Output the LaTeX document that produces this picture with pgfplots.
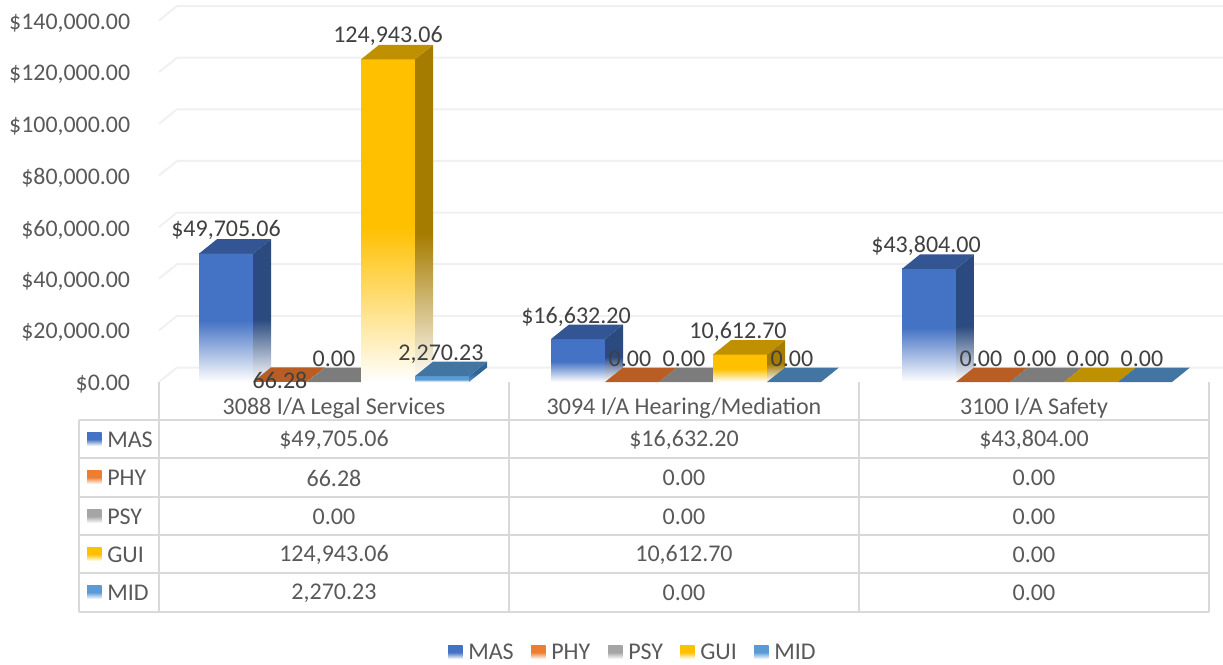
\documentclass[border=0pt]{standalone}
\usepackage{pgfplots}
\pgfplotsset{compat=1.18}
\usepackage{fontspec}
\setmainfont{Carlito}
\definecolor{cMAS}{HTML}{4472C4}\definecolor{cPHY}{HTML}{ED7D31}\definecolor{cPSY}{HTML}{A5A5A5}\definecolor{cGUI}{HTML}{FFC000}\definecolor{cMID}{HTML}{5B9BD5}
\definecolor{tMAS}{HTML}{335593}\definecolor{tPHY}{HTML}{B85E24}\definecolor{tPSY}{HTML}{7C7C7C}\definecolor{tGUI}{HTML}{BF9000}\definecolor{tMID}{HTML}{4375A3}
\definecolor{sMAS}{HTML}{2A4A80}\definecolor{sPHY}{HTML}{A04F1E}\definecolor{sPSY}{HTML}{6B6B6B}\definecolor{sGUI}{HTML}{A67C00}\definecolor{sMID}{HTML}{2F6496}
\definecolor{gridc}{HTML}{F0F0F0}\definecolor{tbl}{HTML}{D9D9D9}\definecolor{lab}{HTML}{595959}\definecolor{dat}{HTML}{404040}
\pgfdeclareverticalshading{fMAS}{100bp}{color(0bp)=(white);color(25bp)=(white);color(49bp)=(cMAS);color(100bp)=(cMAS)}
\pgfdeclareverticalshading{fPHY}{100bp}{color(0bp)=(white);color(25bp)=(white);color(49bp)=(cPHY);color(100bp)=(cPHY)}
\pgfdeclareverticalshading{fPSY}{100bp}{color(0bp)=(white);color(25bp)=(white);color(49bp)=(cPSY);color(100bp)=(cPSY)}
\pgfdeclareverticalshading{fGUI}{100bp}{color(0bp)=(white);color(25bp)=(white);color(49bp)=(cGUI);color(100bp)=(cGUI)}
\pgfdeclareverticalshading{fMID}{100bp}{color(0bp)=(white);color(25bp)=(white);color(49bp)=(cMID);color(100bp)=(cMID)}
\pgfdeclareverticalshading{dMAS}{100bp}{color(0bp)=(white);color(25bp)=(white);color(47bp)=(sMAS);color(100bp)=(sMAS)}
\pgfdeclareverticalshading{dGUI}{100bp}{color(0bp)=(white);color(25bp)=(white);color(47bp)=(sGUI);color(100bp)=(sGUI)}
\pgfdeclareverticalshading{dMID}{100bp}{color(0bp)=(cMID);color(25bp)=(cMID);color(47bp)=(sMID);color(100bp)=(sMID)}
% #1 left front x, #2 right front x, #3 right back x, #4 left back x, #5 value, #6 value + depth, #7 colour
\newcommand{\topface}[7]{\addplot[fill=#7,draw=none,forget plot] coordinates {(#1,#5)(#2,#5)(#3,#6)(#4,#6)} --cycle;}
% #1 right front x, #2 right back x, #3 value, #4 value + depth, #5 shading
\newcommand{\sideface}[5]{\addplot[shade,shading=#5,draw=none,forget plot] coordinates {(#1,0)(#1,#3)(#2,#4)(#2,5615)} --cycle;}
\newcommand{\gridl}[2]{\addplot[draw=gridc,line width=1.5pt,forget plot] coordinates {(159,#1)(177,#2)(1223,#2)};}
\newcommand{\frontbar}[4]{\addplot[ybar,bar width=54,bar shift=#3,shade,shading=#4,draw=none,forget plot] coordinates {(#1,#2)};}
\newcommand{\key}[3]{\path[shade,shading=f#1] (#2,#3) rectangle ++(14.5,14);}
\begin{document}
\begin{tikzpicture}[x=0.75pt,y=-0.75pt]
\path[use as bounding box] (0,0) rectangle (1223,664);
\begin{axis}[
  at={(119.25pt,-286.5pt)},anchor=south west,scale only axis,
  width=798pt,height=271.125pt,
  xmin=159,xmax=1223,ymin=0,ymax=140000,clip=false,
  axis line style={draw=none},major tick length=0pt,scaled y ticks=false,
  ytick={0,20000,40000,60000,80000,100000,120000,140000},
  yticklabels={{\$0.00},{\$20,000.00},{\$40,000.00},{\$60,000.00},{\$80,000.00},{\$100,000.00},{\$120,000.00},{\$140,000.00}},
  yticklabel style={anchor=east,inner sep=0pt,xshift=-21.5pt,yshift=-1.8pt,text=lab,font=\fontsize{17.9pt}{20pt}\selectfont},
  xtick={334,684,1034},
  xticklabels={3088 I/A Legal Services,3094 I/A Hearing/Mediation,3100 I/A Safety},
  xticklabel style={anchor=center,inner sep=0pt,yshift=-19.5pt,text=lab,font=\fontsize{18pt}{20pt}\selectfont},
]
\gridl{0}{5615}\gridl{20000}{25615}\gridl{40000}{45615}\gridl{60000}{65615}
\gridl{80000}{85615}\gridl{100000}{105615}\gridl{120000}{125615}\gridl{140000}{145615}
% 3088
\frontbar{334}{49705.06}{-108}{fMAS}\sideface{253}{271}{49705.06}{55320.06}{dMAS}\topface{199}{253}{271}{217}{49705.06}{55320.06}{tMAS}
\topface{253}{307}{325}{271}{66.28}{5681.28}{tPHY}
\topface{307}{361}{379}{325}{0}{5615}{tPSY}
\frontbar{334}{124943.06}{54}{fGUI}\sideface{415}{433}{124943.06}{130558.06}{dGUI}\topface{361}{415}{433}{379}{124943.06}{130558.06}{tGUI}
\frontbar{334}{2270.23}{108}{fMID}\sideface{469}{487}{2270.23}{7885.23}{dMID}\topface{415}{469}{487}{433}{2270.23}{7885.23}{tMID}
% 3094
\frontbar{686}{16632.20}{-108}{fMAS}\sideface{605}{623}{16632.20}{22247.20}{dMAS}\topface{551}{605}{623}{569}{16632.20}{22247.20}{tMAS}
\topface{605}{659}{677}{623}{0}{5615}{tPHY}
\topface{659}{713}{731}{677}{0}{5615}{tPSY}
\frontbar{686}{10612.70}{54}{fGUI}\sideface{767}{785}{10612.70}{16227.70}{dGUI}\topface{713}{767}{785}{731}{10612.70}{16227.70}{tGUI}
\topface{767}{821}{839}{785}{0}{5615}{tMID}
% 3100
\frontbar{1037}{43804.00}{-108}{fMAS}\sideface{956}{974}{43804.00}{49419.00}{dMAS}\topface{902}{956}{974}{920}{43804.00}{49419.00}{tMAS}
\topface{956}{1010}{1028}{974}{0}{5615}{tPHY}
\topface{1010}{1064}{1082}{1028}{0}{5615}{tPSY}
\topface{1064}{1118}{1136}{1082}{0}{5615}{tGUI}
\topface{1118}{1172}{1190}{1136}{0}{5615}{tMID}
\end{axis}
% data table
\begin{scope}[draw=tbl,line width=1.2pt]
\draw (79,420) -- (1209,420);\draw (79,458) -- (1209,458);\draw (79,497) -- (1209,497);
\draw (79,535) -- (1209,535);\draw (79,573) -- (1209,573);\draw (79,612) -- (1209,612);
\draw (79,420) -- (79,612);
\draw[line width=1.6pt] (159,382) -- (159,612);
\draw (509,382) -- (509,612);\draw (859,382) -- (859,612);\draw (1209,382) -- (1209,612);
\end{scope}
\begin{scope}[every node/.style={inner sep=0pt,font=\fontsize{18pt}{20pt}\selectfont}]
% data labels
\begin{scope}[every node/.append style={text=dat,yshift=-1.5pt}]
\node at (226,228) {\$49,705.06};
\node at (280,378) {66.28};
\node at (334,357) {0.00};
\node at (388,34) {124,943.06};
\node at (441,352) {2,270.23};
\node at (576,315) {\$16,632.20};
\node at (630,357) {0.00};
\node at (684,357) {0.00};
\node at (738,330) {10,612.70};
\node at (792,357) {0.00};
\node at (926,244) {\$43,804.00};
\node at (981,357) {0.00};
\node at (1035,357) {0.00};
\node at (1088,357) {0.00};
\node at (1142,357) {0.00};
\end{scope}
\begin{scope}[every node/.append style={text=lab}]
% row headers
\foreach \n/\y in {MAS/439,PHY/477,PSY/516,GUI/554,MID/592}{
  \key{\n}{87}{\y-7}
  \node[anchor=west,yshift=-0.75pt] at (107,\y) {\n};
}
% table body
\begin{scope}[every node/.append style={yshift=-0.75pt}]
\node at (334,439) {\$49,705.06};\node at (684,439) {\$16,632.20};\node at (1034,439) {\$43,804.00};
\node at (334,477) {66.28};\node at (684,477) {0.00};\node at (1034,477) {0.00};
\node at (334,516) {0.00};\node at (684,516) {0.00};\node at (1034,516) {0.00};
\node at (334,554) {124,943.06};\node at (684,554) {10,612.70};\node at (1034,554) {0.00};
\node at (334,592) {2,270.23};\node at (684,592) {0.00};\node at (1034,592) {0.00};
\end{scope}
% legend
\foreach \n/\kx/\tx in {MAS/448/468,PHY/531/551,PSY/608/628,GUI/680/700,MID/754/774}{
  \key{\n}{\kx}{645}
  \node[anchor=west] at (\tx,652) {\n};
}
\end{scope}
\end{scope}
\end{tikzpicture}
\end{document}
